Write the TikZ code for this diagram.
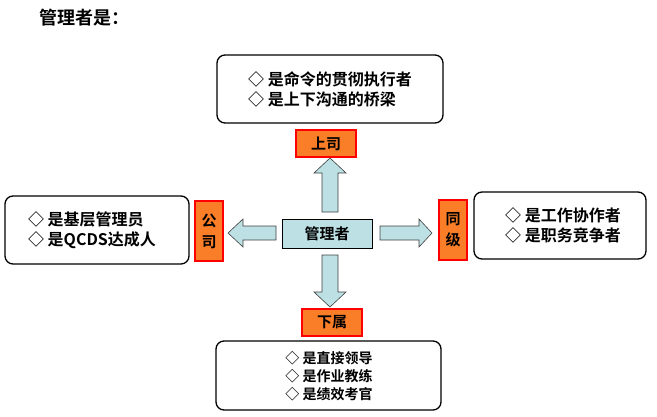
\documentclass[tikz,border=0pt]{standalone}
\usepackage{fontspec}
\setmainfont{Noto Sans CJK SC}[BoldFont={Noto Sans CJK SC Bold}]
\begin{document}
\begin{tikzpicture}[x=1pt,y=-1pt,
  bubble/.style={draw=black,line width=1.3pt,rounded corners=8pt,fill=white},
  tag/.style={draw=red,line width=1.5pt,fill=og,font=\bfseries\fontsize{15}{18}\selectfont,inner sep=0pt},
  arr/.style={draw=black!75,fill=lb,line width=0.6pt},
  txt/.style={font=\bfseries\fontsize{16}{20}\selectfont,align=left}]
\definecolor{og}{RGB}{250,125,40}
\definecolor{lb}{RGB}{188,224,228}
\useasboundingbox (0,0) rectangle (657,416);
\node[font=\bfseries\fontsize{18}{20}\selectfont,anchor=west] (title) at (36,18) {管理者是：};
\node[draw=black,fill=lb,line width=0.8pt,minimum width=90pt,minimum height=29pt,inner sep=0pt,font=\bfseries\fontsize{15}{17}\selectfont] (c) at (327,233.5) {管理者};
% up arrow
\draw[arr] (322,212) -- (322,173) -- (314,173) -- (330,158) -- (346,173) -- (338,173) -- (338,212) -- cycle;
% down arrow
\draw[arr] (322,255) -- (322,292) -- (314,292) -- (330,307) -- (346,292) -- (338,292) -- (338,255) -- cycle;
% left arrow
\draw[arr] (276,226) -- (243,226) -- (243,219) -- (228,233) -- (243,247) -- (243,240) -- (276,240) -- cycle;
% right arrow
\draw[arr] (380,226) -- (419,226) -- (419,219) -- (432,233) -- (419,247) -- (419,240) -- (380,240) -- cycle;
\node[tag,minimum width=60pt,minimum height=27pt] (up) at (326,143.5) {上司};
\node[tag,minimum width=60pt,minimum height=27pt] (dn) at (332,322.5) {下属};
\node[tag,minimum width=28pt,minimum height=60pt,align=center] (lf) at (209,231) {公\\[3pt]司};
\node[tag,minimum width=28pt,minimum height=60pt,align=center] (rt) at (453,230) {同\\[3pt]级};
\draw[bubble] (217,55) rectangle (443,123);
\node[txt] (tt) at (330,89) {◇ 是命令的贯彻执行者\\◇ 是上下沟通的桥梁};
\draw[bubble] (5,196) rectangle (189,264);
\node[txt] (lt) at (92,230) {◇ 是基层管理员\\◇ 是QCDS达成人};
\draw[bubble] (474,192) rectangle (646,259);
\node[txt] (rtt) at (563,225.5) {◇ 是工作协作者\\◇ 是职务竞争者};
\draw[bubble] (216,341) rectangle (441,410);
\node[font=\bfseries\fontsize{14}{18}\selectfont,align=left] (bt) at (329,376) {◇ 是直接领导\\◇ 是作业教练\\◇ 是绩效考官};
\end{tikzpicture}
\end{document}
